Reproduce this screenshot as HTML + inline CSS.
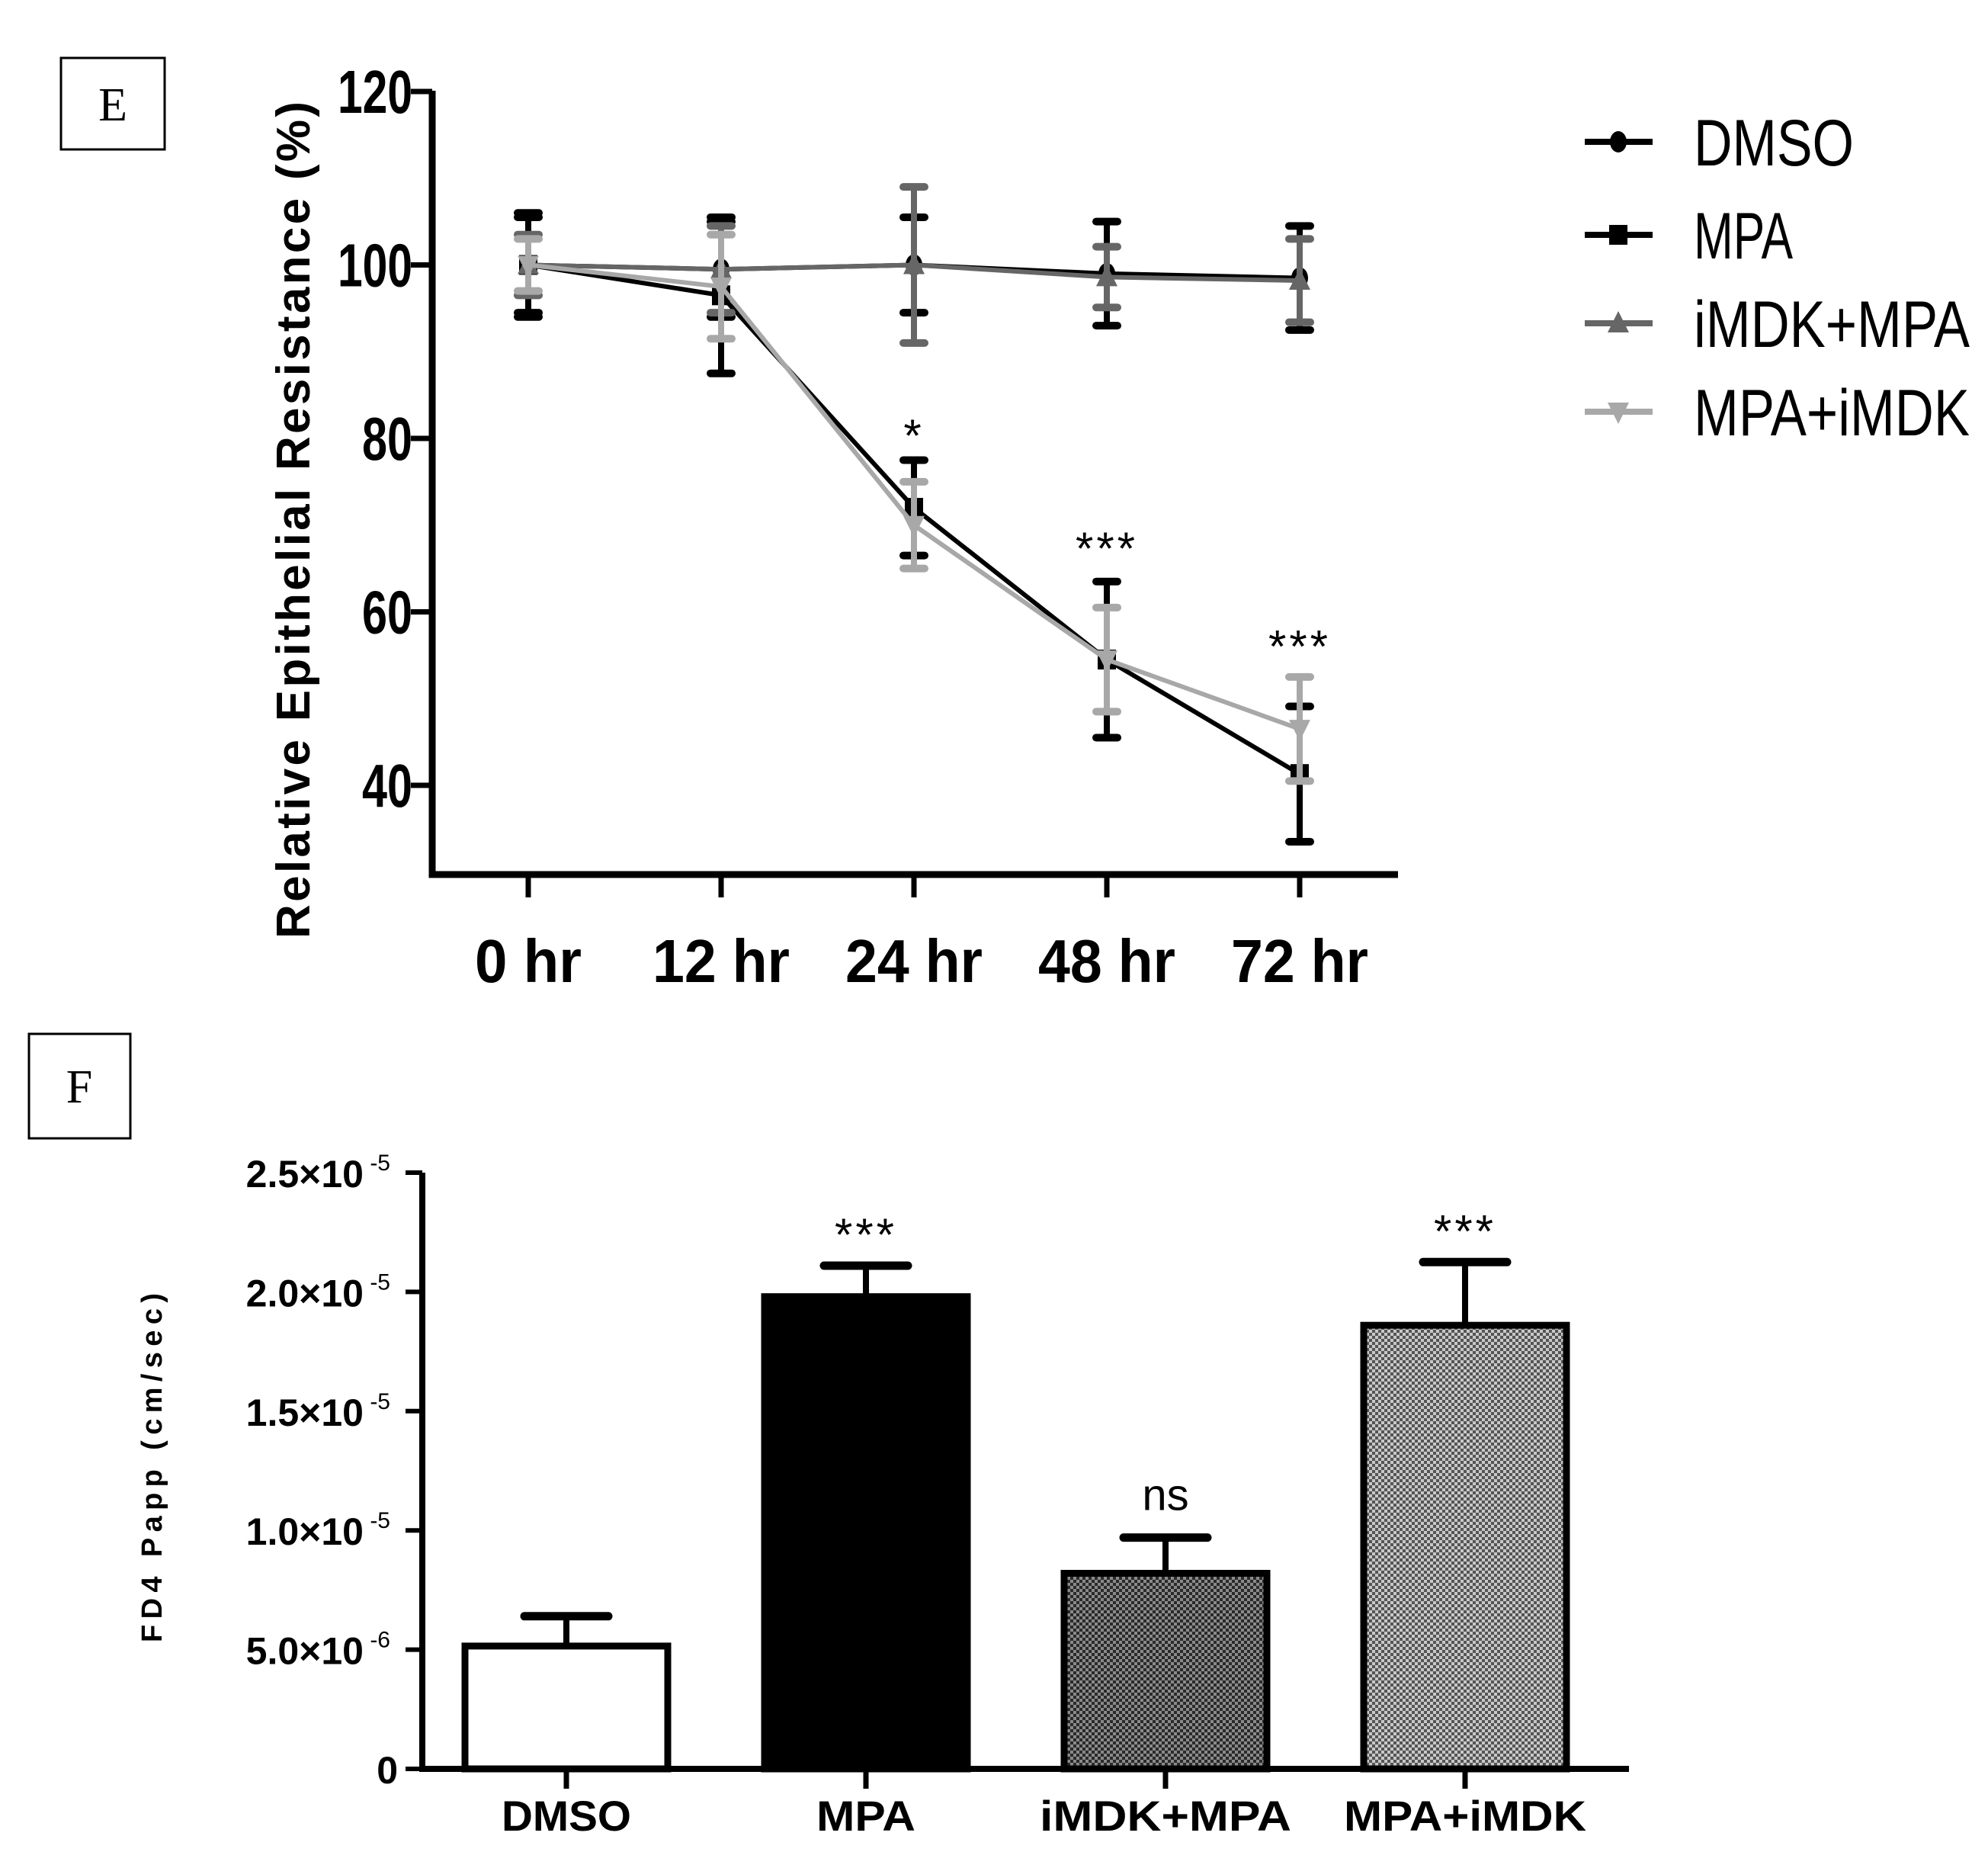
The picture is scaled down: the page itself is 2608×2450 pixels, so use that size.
<!DOCTYPE html>
<html><head><meta charset="utf-8"><style>
html,body{margin:0;padding:0;background:#fff;}
svg{display:block;}
</style></head><body>
<svg id="fig" width="2608" height="2450" viewBox="0 0 2608 2450" xmlns="http://www.w3.org/2000/svg">
<defs>
<pattern id="checkDark" width="8" height="8" patternUnits="userSpaceOnUse"><rect width="8" height="8" fill="#8a8a8a"/><rect width="4" height="4" fill="#2a2a2a"/><rect x="4" y="4" width="4" height="4" fill="#2a2a2a"/></pattern>
<pattern id="checkLight" width="8" height="8" patternUnits="userSpaceOnUse"><rect width="8" height="8" fill="#c8c8c8"/><rect width="4" height="4" fill="#555"/><rect x="4" y="4" width="4" height="4" fill="#555"/></pattern>
</defs>
<g id="panelE"></g>
<g id="panelF"></g>
</svg>
<script>
// ---- Panel E data ----
const timeLabels = ["0 hr","12 hr","24 hr","48 hr","72 hr"];
const eTicks = [40,60,80,100,120];
const seriesNames = ["DMSO","MPA","iMDK+MPA","MPA+iMDK"];
const dmsoMean = [100,99.5,100,99,98.5];
const dmsoErr = [6,5.5,5.5,6,6];
const mpaMean = [100,96.5,72,54.5,41.3];
const mpaErr = [5.5,9,5.5,9,7.8];
const imdkMpaMean = [100,99.5,100,98.6,98.2];
const imdkMpaErr = [3.5,5,9,3.5,4.8];
const mpaImdkMean = [100,97.5,70,54.5,46.5];
const mpaImdkErr = [3,6,5,6,6];
const eStarLabels = ["*","***","***"];
const eStarIdx = [2,3,4];
const eStarVals = [78.5,65.5,54.2];
// ---- Panel F data ----
const fCats = ["DMSO","MPA","iMDK+MPA","MPA+iMDK"];
const fMeans = [5.15e-6,19.8e-6,8.2e-6,18.6e-6];
const fErrs = [1.25e-6,1.3e-6,1.5e-6,2.65e-6];
const fTicks = [0,5e-6,1e-5,1.5e-5,2e-5,2.5e-5];
const fTickMant = ["0","5.0","1.0","1.5","2.0","2.5"];
const fTickExp = ["","-6","-5","-5","-5","-5"];
const fSig = ["","***","ns","***"];

const NS="http://www.w3.org/2000/svg";
function mk(parent,tag,attrs,text){const e=document.createElementNS(NS,tag);for(const k in attrs)e.setAttribute(k,attrs[k]);if(text!==undefined)e.textContent=text;parent.appendChild(e);return e;}

// ===== Panel E =====
const E=document.getElementById('panelE');
const eX0=567,eX1=1834,eYb=1147;
const ey=v=>120+(120-v)*11.375;
const ex=i=>693+i*253;
let g;
g=mk(E,'g',{});


mk(g,'rect',{x:80,y:76,width:136,height:120,fill:'#fff',stroke:'#000','stroke-width':3});
mk(g,'text',{x:148,y:158,'font-family':'Liberation Serif, serif','font-size':62,'text-anchor':'middle'},'E');
g=mk(E,'g',{});


mk(g,'path',{d:`M${eX0} ${ey(120)-1}V${eYb}H${eX1}`,fill:'none',stroke:'#000','stroke-width':9});
eTicks.forEach(t=>{
  mk(g,'line',{x1:eX0-28,x2:eX0,y1:ey(t),y2:ey(t),stroke:'#000','stroke-width':7});
  const tx=mk(g,'text',{x:541,y:ey(t)+28,'font-family':'Liberation Sans, sans-serif','font-weight':'bold','font-size':80,'text-anchor':'end',textLength:t>=100?98:66,lengthAdjust:'spacingAndGlyphs'},String(t));
  
  
});
timeLabels.forEach((l,i)=>{
  mk(g,'line',{x1:ex(i),x2:ex(i),y1:eYb,y2:eYb+30,stroke:'#000','stroke-width':7});
  const tx=mk(g,'text',{x:ex(i),y:1288,'font-family':'Liberation Sans, sans-serif','font-weight':'bold','font-size':80,'text-anchor':'middle',textLength:l.length>4?180:140,lengthAdjust:'spacingAndGlyphs'},l);
  
  
});
const eTitle=mk(g,'text',{x:0,y:0,transform:'translate(406,682) rotate(-90)','font-family':'Liberation Sans, sans-serif','font-weight':'bold','font-size':62,'text-anchor':'middle',textLength:1098,lengthAdjust:'spacing'},'Relative Epithelial Resistance (%)');



const eSeries=[
 {name:'dmso',mean:dmsoMean,err:dmsoErr,color:'#000',marker:'circle'},
 {name:'mpa',mean:mpaMean,err:mpaErr,color:'#000',marker:'square'},
 {name:'imdk-mpa',mean:imdkMpaMean,err:imdkMpaErr,color:'#666',marker:'up'},
 {name:'mpa-imdk',mean:mpaImdkMean,err:mpaImdkErr,color:'#a8a8a8',marker:'down'}];
function marker(p,type,x,y,c){
  if(type==='circle')return mk(p,'ellipse',{cx:x,cy:y,rx:11,ry:14,fill:c});
  if(type==='square')return mk(p,'rect',{x:x-12,y:y-13,width:24,height:26,fill:c});
  if(type==='up')return mk(p,'path',{d:`M${x} ${y-16}L${x+14} ${y+12}H${x-14}Z`,fill:c});
  return mk(p,'path',{d:`M${x} ${y+16}L${x+14} ${y-12}H${x-14}Z`,fill:c});
}
eSeries.forEach(s=>{
  const sg=mk(E,'g',{});
  
  
  s.mean.forEach((m,i)=>{
    const e=s.err[i];
    mk(sg,'line',{x1:ex(i),x2:ex(i),y1:ey(m+e),y2:ey(m-e),stroke:s.color,'stroke-width':8});
    [m+e,m-e].forEach(v=>mk(sg,'line',{x1:ex(i)-14,x2:ex(i)+14,y1:ey(v),y2:ey(v),stroke:s.color,'stroke-width':10,'stroke-linecap':'round'}));
  });
  const line=mk(sg,'polyline',{points:s.mean.map((m,i)=>ex(i)+','+ey(m)).join(' '),fill:'none',stroke:s.color,'stroke-width':6});
  
  
  s.mean.forEach((m,i)=>{
    const mm=marker(sg,s.marker,ex(i),ey(m),s.color);
    
    
  });
});
eStarLabels.forEach((l,k)=>{
  const t=mk(E,'text',{x:ex(eStarIdx[k]),y:ey(eStarVals[k]),'font-family':'Liberation Sans, sans-serif','font-size':60,'text-anchor':'middle','letter-spacing':4},l);
  
  
});
const legY=[186,308,424,540];
seriesNames.forEach((n,k)=>{
  const s=eSeries[k];
  const lg=mk(E,'g',{});
  
  
  mk(lg,'line',{x1:2079,x2:2168,y1:legY[k],y2:legY[k],stroke:s.color,'stroke-width':8});
  marker(lg,s.marker,2123,legY[k],s.color);
  mk(lg,'text',{x:2222,y:legY[k]+31,'font-family':'Liberation Sans, sans-serif','font-size':86,textLength:[210,130,362,362][k],lengthAdjust:'spacingAndGlyphs'},n);
});

// ===== Panel F =====
const F=document.getElementById('panelF');
const fX0=554,fX1=2137,fYb=2320;
const fy=v=>fYb-v*3.128e7;
const fx=i=>743+i*393;
const bw=266;
g=mk(F,'g',{});


mk(g,'rect',{x:38,y:1356,width:133,height:137,fill:'#fff',stroke:'#000','stroke-width':3});
mk(g,'text',{x:104,y:1446,'font-family':'Liberation Serif, serif','font-size':62,'text-anchor':'middle'},'F');
const fills=['#fff','#000','url(#checkDark)','url(#checkLight)'];
fCats.forEach((c,i)=>{
  const bg=mk(F,'g',{});
  
  
  const top=fy(fMeans[i]), et=fy(fMeans[i]+fErrs[i]);
  mk(bg,'line',{x1:fx(i),x2:fx(i),y1:top,y2:et,stroke:'#000','stroke-width':8});
  mk(bg,'line',{x1:fx(i)-55,x2:fx(i)+55,y1:et,y2:et,stroke:'#000','stroke-width':11,'stroke-linecap':'round'});
  mk(bg,'rect',{x:fx(i)-bw/2,y:top,width:bw,height:fYb-top,fill:fills[i],stroke:'#000','stroke-width':9});
  if(fSig[i]){
    const t=mk(F,'text',{x:fx(i),y:et-(fSig[i]==='ns'?36:20),'font-family':'Liberation Sans, sans-serif','font-size':fSig[i]==='ns'?58:60,'text-anchor':'middle','letter-spacing':fSig[i]==='ns'?0:4},fSig[i]);
    
    
  }
  mk(F,'line',{x1:fx(i),x2:fx(i),y1:fYb,y2:fYb+26,stroke:'#000','stroke-width':7});
  const xl=mk(F,'text',{x:fx(i),y:2401,'font-family':'Liberation Sans, sans-serif','font-weight':'bold','font-size':56,'text-anchor':'middle',textLength:[170,130,330,318][i],lengthAdjust:'spacingAndGlyphs'},c);
  
  
});
g=mk(F,'g',{});


mk(g,'path',{d:`M${fX0} ${fy(2.5e-5)}V${fYb}H${fX1}`,fill:'none',stroke:'#000','stroke-width':8});
fTicks.forEach((t,k)=>{
  mk(g,'line',{x1:fX0-22,x2:fX0,y1:fy(t),y2:fy(t),stroke:'#000','stroke-width':6});
  const tx=mk(g,'text',{x:fTickExp[k]?512:522,y:fy(t)+19,'font-family':'Liberation Sans, sans-serif','font-weight':'bold','font-size':50,'text-anchor':'end'});
  
  
  if(fTickExp[k]){
    mk(tx,'tspan',{},fTickMant[k]+'\u00d710');
    mk(tx,'tspan',{dy:-22,'font-size':30,'font-weight':'normal'},' '+fTickExp[k]);
  } else tx.textContent=fTickMant[k];
});
const fTitle=mk(F,'text',{x:0,y:0,transform:'translate(212,1925) rotate(-90)','font-family':'Liberation Sans, sans-serif','font-weight':'bold','font-size':38,'text-anchor':'middle',textLength:458,lengthAdjust:'spacing'},'FD4 Papp (cm/sec)');


</script>
</body></html>
